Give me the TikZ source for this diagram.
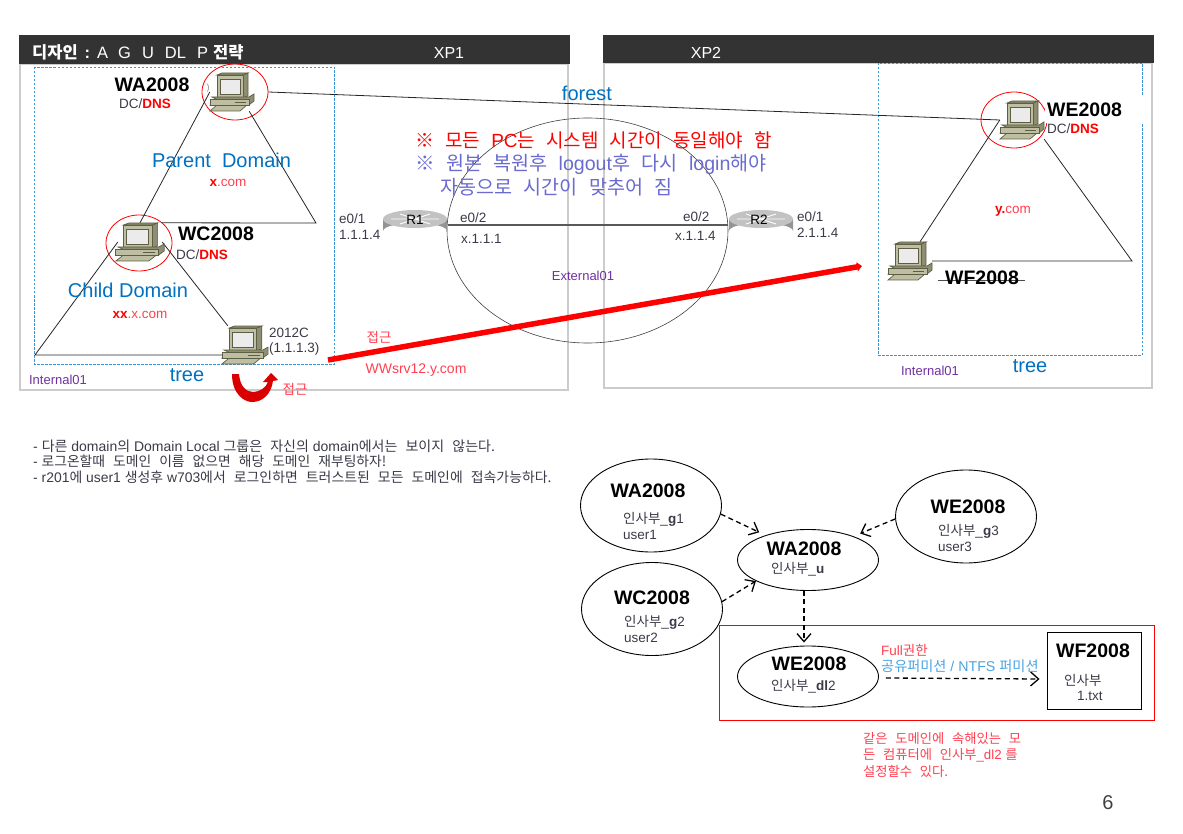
\documentclass[tikz,border=0pt]{standalone}
\usepackage{fontspec}
\setmainfont{Liberation Sans}
\newfontfamily\krfont[WordSpace=2.6]{Noto Sans CJK KR}
\newcommand{\kr}[1]{{\krfont #1}}
\usetikzlibrary{arrows.meta,shapes.geometric,positioning,calc}
\definecolor{hdrgray}{HTML}{333333}
\definecolor{pnlgray}{HTML}{CCCCCC}
\definecolor{dashblue}{HTML}{3C94D2}
\definecolor{dmblue}{HTML}{0070C0}
\definecolor{intpurple}{HTML}{7030A0}
\definecolor{notered}{HTML}{FF4050}
\definecolor{noteblue}{HTML}{6A6ACF}
\definecolor{permblue}{HTML}{4AA3E0}
\definecolor{txtgray}{HTML}{3A3A48}
\definecolor{pcdark}{HTML}{5E5E44}
\definecolor{pcmid}{HTML}{8E8E72}
\definecolor{pclight}{HTML}{BEBEA2}
\tikzset{
  pics/pcicon/.style={code={
    \fill[pclight,draw=pcdark,line width=.7pt] (-22,19) -- (-15,13) -- (15,13) -- (8,19) -- cycle;
    \fill[pcmid,draw=pcdark,line width=.7pt] (11,-17) -- (16,-19) -- (16,4) -- (11,6) -- cycle;
    \fill[pcmid,draw=pcdark,line width=.7pt] (-15,-17) -- (-10,-19) -- (16,-19) -- (11,-17) -- cycle;
    \fill[pclight,draw=pcdark,line width=.7pt] (-15,-17) rectangle (11,5);
    \fill[white!92!black,draw=pcdark,line width=.7pt] (-12,-13) rectangle (8,2);
    \fill[pcmid,draw=pcdark,line width=.7pt] (-16,7) -- (-20,5) -- (17,5) -- (22,2) -- (22,9) -- (17,13) -- (-22,13) -- cycle;
    \fill[pclight,draw=pcdark,line width=.7pt] (-22,7) -- (17,7) -- (17,13) -- (-22,13) -- cycle;
    \draw[pcdark,line width=.7pt] (3,10) -- (14,10);
  }},
  pics/rtricon/.style={code={
    \fill[black!42] (-32,-6) -- (-32,6) arc[start angle=180,end angle=360,x radius=32,y radius=8] -- (32,-6) -- cycle;
    \fill[black!24] (0,-6) ellipse[x radius=32,y radius=9];
    \draw[white,line width=.9pt] (-15,-11) -- (15,-1) (-15,-1) -- (15,-11) (-24,-6) -- (24,-6);
  }}
}
\begin{document}
\begin{tikzpicture}[x=1pt,y=-1pt,
    lbl/.style={inner sep=0pt, font=\fontsize{13.5}{15}\selectfont},
    lft/.style={lbl, anchor=west},
    host/.style={inner sep=0pt, font=\fontsize{19.5}{22}\selectfont\bfseries},
    dom/.style={inner sep=0pt, text=dmblue, font=\fontsize{20}{23}\selectfont},
    net/.style={inner sep=0pt, text=intpurple, font=\fontsize{13}{15}\selectfont},
    ifc/.style={lft, text=txtgray, font=\fontsize{13.5}{15}\selectfont},
    pcnode/.style={minimum width=44pt, minimum height=38pt, inner sep=0pt},
    rtr/.style={minimum width=66pt, minimum height=30pt, inner sep=0pt},
    ring/.style={draw=red, ellipse, minimum width=66pt, minimum height=56pt, inner sep=0pt, line width=.8pt},
    grp/.style={draw, ellipse, minimum width=141pt, minimum height=93pt, inner sep=0pt, line width=.9pt},
    grpmid/.style={grp, minimum height=61pt},
    zone/.style={draw=dashblue, dashed, dash pattern=on 2.5pt off 1.5pt, line width=.8pt},
    pnl/.style={draw=pnlgray, line width=1.2pt},
    hdr/.style={fill=hdrgray},
    tri/.style={line width=.8pt, black!85},
    arr/.style={-{Straight Barb[length=8pt,width=14pt]}, dashed, dash pattern=on 5pt off 3.5pt, line width=1.3pt}
]
\useasboundingbox (0,0) rectangle (1183,834);
% panels
\draw[pnl] (20,64) rectangle (568,390);
\draw[pnl] (604,63) rectangle (1152,388);
\fill[hdr] (19,35) rectangle (570,64);
\fill[hdr] (603,35) rectangle (1154,63);
\node[lft, anchor=west, text=white, font=\fontsize{16.5}{18}\selectfont] (title) at (32,52) {\kr{\bfseries 디자인}\hspace{7pt}\textbf{:}\hspace{7pt}A\hspace{10pt}G\hspace{11pt}U\hspace{11pt}DL\hspace{11pt}P\hspace{5pt}\kr{\bfseries 전략}};
\node[lbl, text=white, font=\fontsize{16}{18}\selectfont] (xp1) at (449,53) {XP1};
\node[lbl, text=white, font=\fontsize{16}{18}\selectfont] (xp2) at (706,53) {XP2};
\draw[zone] (34,67) rectangle (334,364);
\draw[zone] (878,63) rectangle (1142,355);

% hosts
\node[pcnode] (wa) at (232,92) {};
\node[pcnode] (wc) at (140,242) {};
\node[pcnode] (cl) at (245,345) {};
\node[pcnode] (we) at (1022,120) {};
\node[pcnode] (wf) at (910,261) {};
\node[ring] (waring) at (235,92) {};
\node[ring] (wcring) at (139,243) {};
\node[ring] (wering) at (1014,120) {};
\coordinate (parR) at (316,223);
\coordinate (chL) at (35,355);
\coordinate (yR) at (1132,261);

% external net
\node[draw=black!75, ellipse, minimum width=281pt, minimum height=225pt, inner sep=0pt, line width=.6pt] (ext) at (587.5,230.5) {};
\node[rtr] (r1) at (415,225) {};
\node[rtr] (r2) at (761,225) {};
\draw[black!65, line width=1.2pt] (r1) -- (r2);

% trees
\draw[tri] (wa.west) -- (wc.north);
\draw[tri] ([xshift=-5pt]wa.south east) -- (parR) -- (wc.north east);
\draw[tri] (wc.west) -- (chL) -- (chL -| cl.west);
\draw[tri] (wc.east) -- ([xshift=5pt]cl.north west);
\draw[tri] (we.west) -- ([xshift=10pt]wf.north);
\draw[tri] (we.south east) -- (yR) -- (wf.east);
\draw[line width=.8pt, black!85] (waring.east) -- (we.west);
\pic at (wa) {pcicon};
\pic[xscale=1.1] at (wc) {pcicon};
\pic[xscale=1.05] at (cl) {pcicon};
\pic at (we) {pcicon};
\pic at (wf) {pcicon};
\pic at (r1) {rtricon};
\pic at (r2) {rtricon};

% access arrows
\coordinate (accS) at (328,360);
\coordinate (accE) at (862,266);
\draw[red, line width=5.5pt, -{Triangle[length=5pt,width=9pt]}] (accS) -- (accE);
\fill[red!85!black] (232,374) .. controls (232,395) and (245,402) .. (252,402) .. controls (262,402) and (271,395) .. (273,381) -- (278,380) -- (271,373) -- (263,382) -- (268,382) .. controls (266,388) and (259,392) .. (253,392) .. controls (246,392) and (240,386) .. (239,374) -- cycle;

% left panel texts
\node[host] (waname) at (152,85) {WA2008};
\node[lbl, text=txtgray] (wadc) at (145,104) {DC/\textcolor{red}{\bfseries DNS}};
\node[lbl, text=black!45, font=\fontsize{9}{10}\selectfont] (waparen) at (208,88) {)};
\node[dom] (parent) at (221.5,160) {Parent\ \ Domain};
\node[lbl, text=notered] (xcom) at (228,183) {\textcolor{red}{\bfseries x}.com};
\node[host] (wcname) at (216,234) {WC2008};
\node[lbl, text=txtgray] (wcdc) at (202,255) {DC/\textcolor{red}{\bfseries DNS}};
\node[dom] (child) at (128,290) {Child Domain};
\node[lbl, text=notered] (xxcom) at (140,315) {\textcolor{red}{\bfseries xx}.x.com};
\node[ifc] (clname) at (269,333) {2012C};
\node[ifc] (clip) at (269,349) {(1.1.1.3)};
\node[dom] (treeL) at (187,375) {tree};
\node[net] (intL) at (58,380) {Internal01};
\node[lbl, text=notered] (acc1) at (295,389) {\kr{접근}};
\node[lbl, text=notered] (acc2) at (379,337) {\kr{접근}};
\node[lbl, text=notered, font=\fontsize{14}{15}\selectfont] (srv) at (416,370) {WWsrv12.y.com};

% routers
\node[ifc] (r1a) at (339,219) {e0/1};
\node[ifc] (r1ip) at (339,235) {1.1.1.4};
\node[lbl] (r1n) at (415,220) {R1};
\node[ifc] (r1b) at (460,218) {e0/2};
\node[ifc] (r1bip) at (461,239) {x.1.1.1};
\node[ifc] (r2b) at (683,217) {e0/2};
\node[ifc] (r2bip) at (675,236) {x.1.1.4};
\node[lbl] (r2n) at (759,220) {R2};
\node[ifc] (r2a) at (797,217) {e0/1};
\node[ifc] (r2ip) at (797,233) {2.1.1.4};
\node[net] (extn) at (583,276) {External01};
\node[dom] (forest) at (587,93) {forest};
\node[lft, text=red, font=\fontsize{19}{20}\selectfont] (note1) at (415,140) {\kr{※ 모든 }PC\kr{는 시스템 시간이 동일해야 함}};
\node[lft, text=noteblue, font=\fontsize{19.6}{20}\selectfont] (note2) at (415,164) {\kr{※ 원본 복원후}\ \ logout\kr{후 다시 }login\kr{해야}};
\node[lft, text=noteblue, font=\fontsize{19.6}{20}\selectfont] (note3) at (440,187) {\kr{자동으로 시간이 맞추어 짐}};

% right panel texts
\node[lft, host, anchor=west, fill=white, minimum width=102pt, minimum height=27pt, align=left, text width=98pt, inner xsep=2pt] (wename) at (1045,110) {WE2008};
\node[lft, text=txtgray] (wedc) at (1047,129) {DC/\textcolor{red}{\bfseries DNS}};
\node[lbl, text=notered] (ycom) at (1013,211) {\textcolor{red}{\bfseries y.}com};
\draw[black!70, line width=.7pt] (938,280) -- (1025,280);
\node[host] (wfname) at (982,278) {WF2008};
\node[net] (intR) at (930,371) {Internal01};
\node[dom] (treeR) at (1030,366) {tree};

% remarks
\node[lft, text=txtgray, font=\fontsize{14}{14}\selectfont] (rem1) at (33,446) {- \kr{다른} domain\kr{의} Domain Local \kr{그룹은 자신의} domain\kr{에서는 보이지 않는다.}};
\node[lft, text=txtgray, font=\fontsize{13.8}{14}\selectfont] (rem2) at (33,461) {- \kr{로그온할때 도메인 이름 없으면 해당 도메인 재부팅하자!}};
\node[lft, text=txtgray, font=\fontsize{13.9}{14}\selectfont] (rem3) at (33,477) {- r201\kr{에} user1 \kr{생성후} w703\kr{에서 로그인하면 트러스트된 모든 도메인에 접속가능하다.}};

% group nesting
\draw[red, line width=.9pt] (719,625) rectangle (1154,720);
\node[grp] (g1) at (651,505.5) {};
\node[grp] (g2) at (652,609) {};
\node[grp] (g3) at (966,516.5) {};
\node[grpmid] (gu) at (808,560) {};
\node[grpmid] (gdl) at (808,676.5) {};
\node[draw, line width=.9pt, minimum width=94pt, minimum height=77pt, inner sep=0pt] (res) at (1094,670.5) {};

\draw[arr] (g1.-7.5) -- ([xshift=-6pt,yshift=3pt]gu.150);
\draw[arr] (g2.6.4) -- (gu.202);
\draw[arr] (g3.182) -- ([xshift=6pt,yshift=3pt]gu.27);
\draw[arr] ([xshift=-4pt]gu.south) -- ([xshift=-4pt,yshift=3pt]gdl.north);
\draw[arr] ([xshift=7pt,yshift=-1.5pt]gdl.east) -- ([xshift=-7pt,yshift=-8.5pt]res.west);

\node[host] (g1n) at (648,491) {WA2008};
\node[lft, text=txtgray] (g1a) at (623,519) {\kr{인사부}\_\textbf{g}1};
\node[lft, text=txtgray] (g1b) at (623,535) {user1};
\node[host] (g2n) at (652,598) {WC2008};
\node[lft, text=txtgray] (g2a) at (624,622) {\kr{인사부}\_\textbf{g}2};
\node[lft, text=txtgray] (g2b) at (624,638) {user2};
\node[host] (g3n) at (968,507) {WE2008};
\node[lft, text=txtgray] (g3a) at (938,531) {\kr{인사부}\_\textbf{g}3};
\node[lft, text=txtgray] (g3b) at (938,547) {user3};
\node[host] (gun) at (804,549) {WA2008};
\node[lft, text=txtgray] (gua) at (771,569) {\kr{인사부}\_\textbf{u}};
\node[host] (gdln) at (809,664) {WE2008};
\node[lft, text=txtgray] (gdla) at (771,686) {\kr{인사부}\_\textbf{dl}2};
\node[lft, text=notered] (full) at (881,650) {Full\kr{권한}};
\node[lft, text=permblue, font=\fontsize{14.2}{15}\selectfont] (perm) at (881,666) {\kr{공유퍼미션} / NTFS \kr{퍼미션}};
\node[host] (resn) at (1093,651) {WF2008};
\node[lft, text=txtgray] (resa) at (1064,680) {\kr{인사부}};
\node[lft, text=txtgray] (resb) at (1077,696) {1.txt};

\node[lft, text=notered, font=\fontsize{13.3}{14}\selectfont] (cap1) at (863,739) {\kr{같은 도메인에 속해있는 모}};
\node[lft, text=notered, font=\fontsize{13.3}{14}\selectfont] (cap2) at (863,755) {\kr{든 컴퓨터에 인사부}\_dl2 \kr{를}};
\node[lft, text=notered, font=\fontsize{13.3}{14}\selectfont] (cap3) at (863,771) {\kr{설정할수 있다.}};
\node[lbl, text=black!75, font=\fontsize{20}{23}\selectfont] (pageno) at (1108,803) {6};
\end{tikzpicture}
\end{document}
